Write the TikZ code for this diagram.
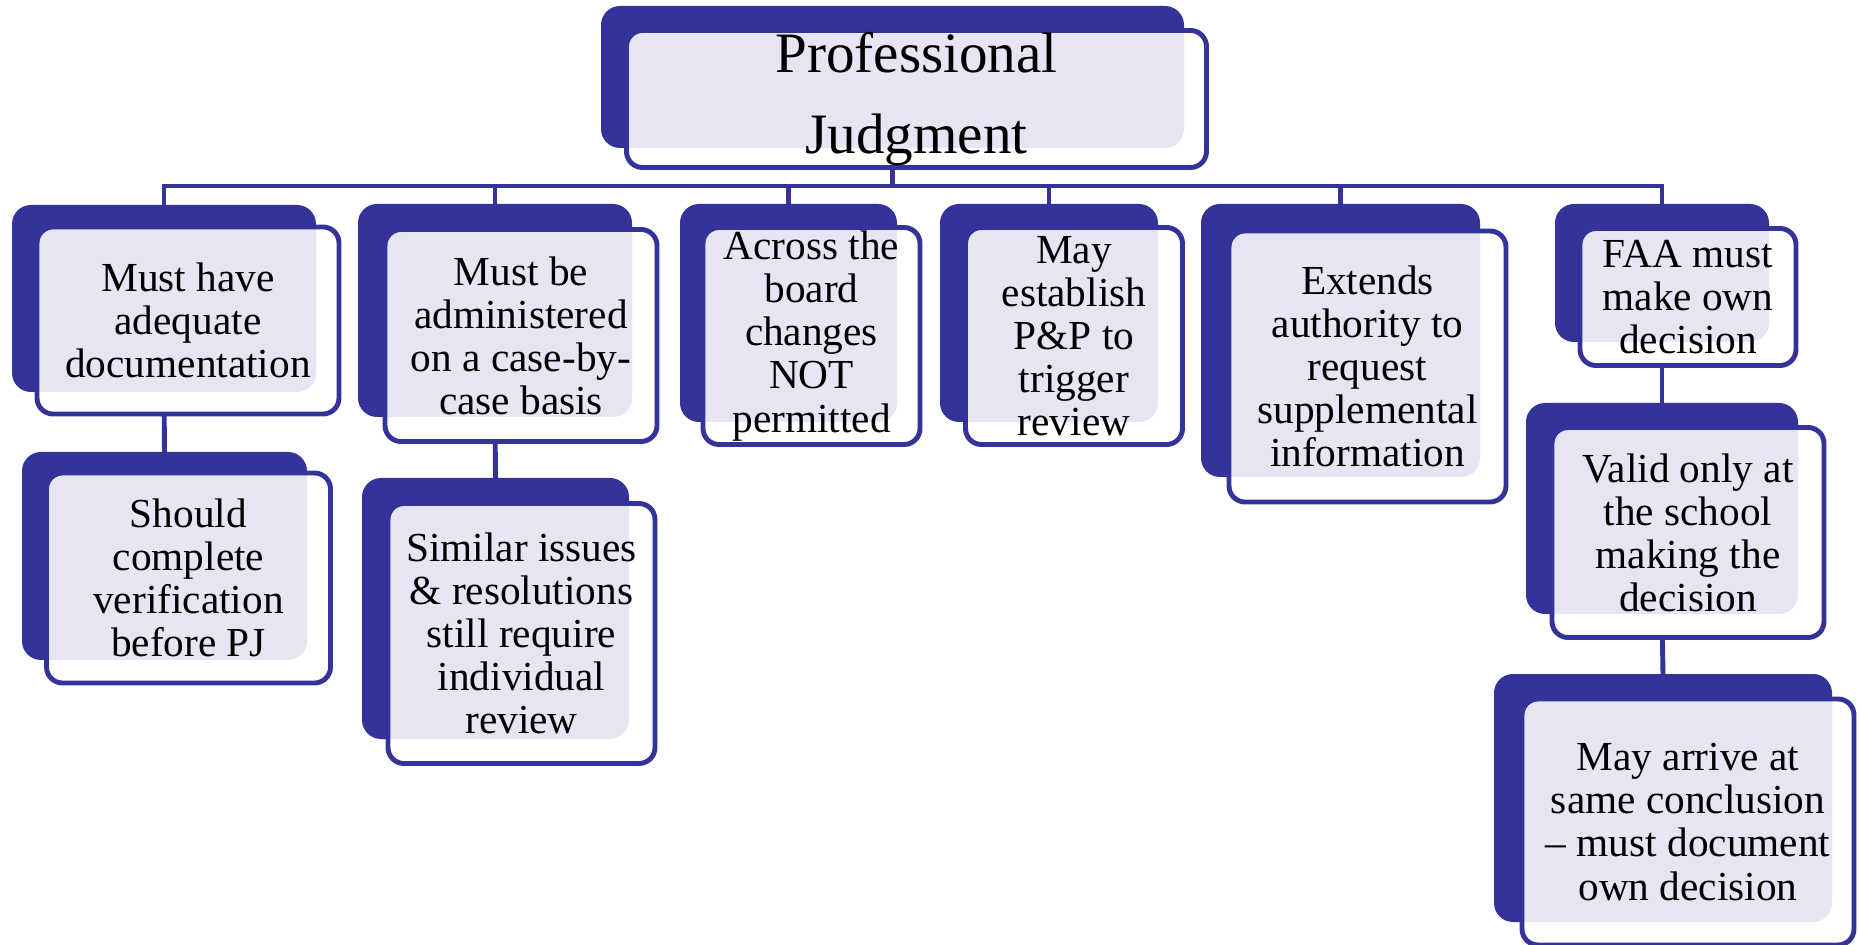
\documentclass[tikz,border=0pt]{standalone}
\usepackage{fontspec}
\setmainfont{Liberation Serif}
\usetikzlibrary{positioning, backgrounds}
\definecolor{pjblue}{RGB}{51,51,153}
\definecolor{pjlight}{RGB}{229,229,243}

\begin{document}
\begin{tikzpicture}[
    x=0.02cm, y=-0.02cm,
    sz/.style 2 args={minimum width=#1*0.02cm, minimum height=#2*0.02cm},
    back/.style={fill=pjblue, rounded corners=0.38cm, outer sep=0pt, inner sep=0pt},
    front/.style={draw=pjblue, line width=2.8pt, fill=white, rounded corners=0.32cm,
        outer sep=0pt, inner sep=0pt, align=center, font=\fontsize{23.5}{24.5}\selectfont,
        path picture={\fill[pjlight, rounded corners=0.38cm] (#1.south west) rectangle (#1.north east);}},
    link/.style={draw=pjblue, line width=2.8pt}
]
    \useasboundingbox (0,0) rectangle (1860,945);

    % root
    \node[back, sz={583}{142}] (root) at (892.5,77) {};
    \node[front=root, sz={580}{137}, font=\fontsize{32.5}{46}\selectfont] (root-t) at ([shift={(24,22)}]root.center) {Professional\\Judgment};

    % first level
    \node[back, sz={304}{187}] (docs) at (164,298.5) {};
    \node[front=docs, sz={302}{187}] (docs-t) at ([shift={(24,22)}]docs.center) {Must have\\adequate\\documentation};

    \node[back, sz={274}{213}] (case) at (495,310.5) {};
    \node[front=case, sz={272}{212}] (case-t) at ([shift={(26,25)}]case.center) {Must be\\administered\\on a case-by-\\case basis};

    \node[back, sz={217}{218}] (board) at (788.5,313) {};
    \node[front=board, sz={217}{217}] (board-t) at ([shift={(23,23)}]board.center) {Across the\\board\\changes\\NOT\\permitted};

    \node[back, sz={218}{218}] (policy) at (1049,313) {};
    \node[front=policy, sz={217}{217}] (policy-t) at ([shift={(25,23)}]policy.center) {May\\establish\\P\&P to\\trigger\\review};

    \node[back, sz={279}{273}] (suppl) at (1340.5,340.5) {};
    \node[front=suppl, sz={277}{271}] (suppl-t) at ([shift={(27,26)}]suppl.center) {Extends\\authority to\\request\\supplemental\\information};

    \node[back, sz={214}{138}] (faa) at (1662,273) {};
    \node[front=faa, sz={216}{137}] (faa-t) at ([shift={(26,24)}]faa.center) {FAA must\\make own\\decision};

    % second level
    \node[back, sz={285}{208}] (verify) at (164.5,556) {};
    \node[front=verify, sz={284}{210}] (verify-t) at ([shift={(24,22)}]verify.center) {Should\\complete\\verification\\before PJ};

    \node[back, sz={267}{261}] (similar) at (495.5,608.5) {};
    \node[front=similar, sz={267}{260}] (similar-t) at ([shift={(26,25)}]similar.center) {Similar issues\\\& resolutions\\still require\\individual\\review};

    \node[back, sz={272}{211}] (valid) at (1662,508.5) {};
    \node[front=valid, sz={272}{210}] (valid-t) at ([shift={(26,24)}]valid.center) {Valid only at\\the school\\making the\\decision};

    \node[back, sz={338}{248}] (same) at (1663,798) {};
    \node[front=same, sz={332}{246}] (same-t) at ([shift={(25,24)}]same.center) {May arrive at\\same conclusion\\-- must document\\own decision};

    % connectors
    \begin{scope}[on background layer]
        \coordinate (bus) at (0,186);
        \draw[link] (root.south) -- (root.south |- bus);
        \draw[link] (docs.north) |- (faa.north |- bus) -- (faa.north);
        \foreach \n in {case, board, policy, suppl}
            \draw[link] (\n.north) -- (\n.north |- bus);
        \draw[link] (docs.south) -- (verify.north);
        \draw[link] (case.south) -- (similar.north);
        \draw[link] (faa.south) -- (valid.north);
        \draw[link] (valid.south) -- (same.north);
    \end{scope}
\end{tikzpicture}
\end{document}
